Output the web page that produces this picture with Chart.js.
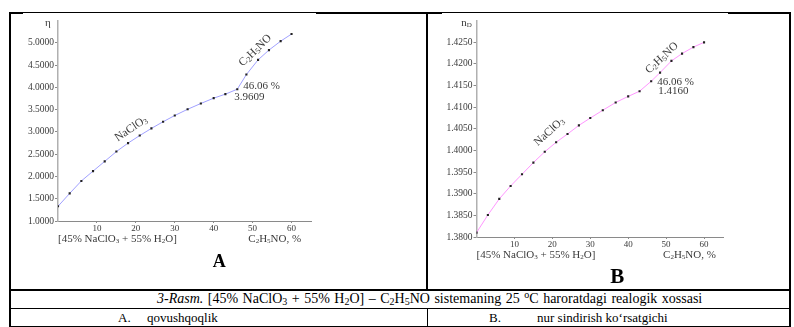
<!DOCTYPE html>
<html>
<head>
<meta charset="utf-8">
<script src="https://cdn.jsdelivr.net/npm/chart.js@4/dist/chart.umd.min.js"></script>
<style>
	body { margin: 0; background: #fff; }
	#page { position: relative; width: 794px; height: 327px; overflow: hidden; font-family: "Liberation Serif", "Times New Roman", serif; color: #000; }
	.ln { position: absolute; background: #000; }
	.wh { position: absolute; background: #fff; }
	.box { position: absolute; }
	.txt { position: absolute; white-space: nowrap; font-size: 13px; line-height: 16px; }
	.txt sub { font-size: 9px; line-height: 0; vertical-align: -2px; }
	.txt sup { font-size: 9px; line-height: 0; vertical-align: 5px; }
	.cap { font-size: 14px; word-spacing: 1px; }
	.cap sub, .cap sup { font-size: 10px; }
</style>
</head>
<body>
<div id="page">
	<!-- table borders -->
	<div class="ln" style="left:9px; top:12px; width:782px; height:2px;"></div>
	<div class="wh" style="left:23px; top:13px; width:293px; height:1px;"></div>
	<div class="wh" style="left:442px; top:13px; width:286px; height:1px;"></div>
	<div class="ln" style="left:9px; top:12px; width:2px; height:315px;"></div>
	<div class="ln" style="left:789px; top:12px; width:2px; height:315px;"></div>
	<div class="ln" style="left:426px; top:12px; width:2px; height:278px;"></div>
	<div class="ln" style="left:9px; top:289px; width:782px; height:2px;"></div>
	<div class="ln" style="left:9px; top:308px; width:782px; height:1px;"></div>
	<div class="ln" style="left:427px; top:308px; width:1px; height:19px;"></div>
	<div class="ln" style="left:9px; top:326px; width:782px; height:1px;"></div>

	<div class="box" style="left:12px; top:14px;"><canvas id="chartA" width="410" height="274"></canvas></div>
	<div class="box" style="left:429px; top:14px;"><canvas id="chartB" width="358" height="274"></canvas></div>

	<div class="txt cap" style="left:157px; top:291px;"><i>3-Rasm.</i> [45% NaClO<sub>3</sub> + 55% H<sub>2</sub>O] – C<sub>2</sub>H<sub>5</sub>NO sistemaning 25 <sup>o</sup>C haroratdagi realogik xossasi</div>
	<div class="txt" style="left:118px; top:310px;">A.</div>
	<div class="txt" style="left:147px; top:310px;">qovushqoqlik</div>
	<div class="txt" style="left:489px; top:310px;">B.</div>
	<div class="txt" style="left:537px; top:310px;">nur sindirish ko‘rsatgichi</div>
</div>

<script>
// C2H5NO content, % (same composition points for both curves)
var concentration = [0, 3, 6, 9, 12, 15, 18, 21, 24, 27, 30, 33.3, 36.7, 40, 43, 46.06, 48.4, 51.4, 54.2, 57.2, 60];
// viscosity, eta
var viscosity = [1.33, 1.62, 1.90, 2.12, 2.34, 2.56, 2.75, 2.92, 3.08, 3.23, 3.37, 3.51, 3.64, 3.76, 3.85, 3.9609, 4.29, 4.62, 4.84, 5.04, 5.20];
// refractive index, nD
var refraction = [1.3810, 1.3851, 1.3888, 1.3918, 1.3945, 1.3972, 1.3997, 1.4019, 1.4038, 1.4058, 1.4075, 1.4093, 1.4111, 1.4125, 1.4137, 1.4160, 1.4180, 1.4207, 1.4224, 1.4239, 1.4250];

var xTicks = [10, 20, 30, 40, 50, 60];
var yTicksA = [1.0, 1.5, 2.0, 2.5, 3.0, 3.5, 4.0, 4.5, 5.0];
var yTicksB = [1.380, 1.385, 1.390, 1.395, 1.400, 1.405, 1.410, 1.415, 1.420, 1.425];

var SERIF = "'Liberation Serif', 'Times New Roman', serif";
var TEXT_GRAY = "#3a3a3a";

// draw text made of plain and subscript pieces, starting at (x, y) on the middle line
function drawRich( ctx, parts, x, y, size, align, bold ) {
	var weight = bold ? "bold " : "";
	var subSize = Math.round( size * 0.68 );
	var total = 0;
	parts.forEach( function( p ) {
		ctx.font = weight + ( p.sub ? subSize : size ) + "px " + SERIF;
		p.w = ctx.measureText( p.t ).width;
		total += p.w;
	} );
	var cx = x;
	if ( align === "center" ) { cx = x - total / 2; }
	ctx.textBaseline = "middle";
	ctx.textAlign = "left";
	parts.forEach( function( p ) {
		ctx.font = weight + ( p.sub ? subSize : size ) + "px " + SERIF;
		ctx.fillText( p.t, cx, p.sub ? y + size * 0.22 : y );
		cx += p.w;
	} );
}

function rich( str ) {
	// "NaClO_3" -> [{t:"NaClO"},{t:"3",sub:true}]
	var out = [];
	str.split( /(_\d)/ ).forEach( function( s ) {
		if ( !s ) { return; }
		if ( s.charAt( 0 ) === "_" ) { out.push( { t: s.substr( 1 ), sub: true } ); }
		else { out.push( { t: s } ); }
	} );
	return out;
}

// notes placed at data coordinates, plus texts under the axis
var notesPlugin = {
	id: "notes",
	afterDatasetsDraw: function( chart ) {
		var ctx = chart.ctx;
		var xs = chart.scales.x, ys = chart.scales.y;
		var o = chart.options.plugins.notes;
		ctx.save();
		ctx.fillStyle = TEXT_GRAY;
		o.items.forEach( function( n ) {
			var px = xs.getPixelForValue( n.x ) + ( n.dx || 0 );
			var py = ys.getPixelForValue( n.y ) + ( n.dy || 0 );
			ctx.save();
			ctx.translate( px, py );
			ctx.rotate( ( n.rot || 0 ) * Math.PI / 180 );
			drawRich( ctx, rich( n.text ), 0, 0, n.size || 11, n.align || "left" );
			ctx.restore();
		} );
		// axis title at the top of the y axis
		drawRich( ctx, o.yTitle, xs.left - 10, chart.chartArea.top + 2, 11, "center" );
		// texts under the x axis
		var base = chart.chartArea.bottom;
		drawRich( ctx, rich( "[45% NaClO_3 + 55% H_2O]" ), xs.left, base + o.capOffset, 11, "left" );
		drawRich( ctx, rich( "C_2H_5NO, %" ), xs.getPixelForValue( o.unitAt ), base + o.capOffset, 11, "left" );
		ctx.fillStyle = "#000";
		drawRich( ctx, [ { t: o.letter } ], xs.getPixelForValue( o.letterAt ), base + o.letterOffset, o.letterSize, "center", true );
		ctx.restore();
	}
};

function makeChart( id, values, lineColor, yMin, yMax, yTicks, digits, sizes, notes ) {
	var ctx = document.getElementById( id ).getContext( "2d" );
	var points = concentration.map( function( c, i ) { return { x: c, y: values[ i ] }; } );
	return new Chart( ctx, {
		type: "line",
		data: {
			datasets: [ {
				data: points,
				borderColor: lineColor,
				borderWidth: 1,
				tension: 0,
				pointStyle: "rect",
				pointRadius: 1.5,
				pointBackgroundColor: "#222",
				pointBorderWidth: 0
			} ]
		},
		plugins: [ notesPlugin ],
		options: {
			responsive: false,
			animation: false,
			layout: { padding: { left: 0, right: sizes.right, top: 3, bottom: 0 } },
			plugins: {
				legend: { display: false },
				tooltip: { enabled: false },
				notes: notes
			},
			scales: {
				x: {
					type: "linear",
					min: 0,
					max: 65,
					afterBuildTicks: function( s ) { s.ticks = xTicks.map( function( v ) { return { value: v }; } ); },
					afterFit: function( s ) { s.height = sizes.xHeight; },
					border: { color: "#8a8a8a", width: 1 },
					grid: { drawOnChartArea: false, tickLength: 2, color: "#8a8a8a" },
					ticks: { padding: 0, color: TEXT_GRAY, font: { family: SERIF, size: 9 } }
				},
				y: {
					type: "linear",
					min: yMin,
					max: yMax,
					afterBuildTicks: function( s ) { s.ticks = yTicks.map( function( v ) { return { value: v }; } ); },
					afterFit: function( s ) { s.width = sizes.yWidth; },
					border: { color: "#b0b0b0", width: 1.5 },
					grid: { drawOnChartArea: false, tickLength: 3, color: "#8a8a8a" },
					ticks: {
						padding: 1,
						color: TEXT_GRAY,
						font: { family: SERIF, size: 9.5 },
						callback: function( v ) { return Number( v ).toFixed( digits ); }
					}
				}
			}
		}
	} );
}

makeChart( "chartA", viscosity, "rgb(160,160,255)", 1.0, 5.5, yTicksA, 4,
	{ right: 111, xHeight: 67, yWidth: 46 },
	{
		yTitle: [ { t: "η" } ],
		capOffset: 18, unitAt: 48.9,
		letter: "A", letterAt: 41.4, letterOffset: 41, letterSize: 18,
		items: [
			{ text: "NaClO_3", x: 18.8, y: 3.07, rot: -34, align: "center", size: 11.5 },
			{ text: "C_2H_5NO", x: 50.7, y: 4.83, rot: -44, align: "center", size: 11.5 },
			{ text: "46.06 %", x: 46.06, y: 3.9609, dx: 6, dy: -3 },
			{ text: "3.9609", x: 46.06, y: 3.9609, dx: -3, dy: 8 }
		]
	} );

makeChart( "chartB", refraction, "rgb(255,150,255)", 1.38, 1.43, yTicksB, 4,
	{ right: 64, xHeight: 51, yWidth: 47.5 },
	{
		yTitle: [ { t: "n" }, { t: "D", sub: true } ],
		capOffset: 18, unitAt: 49.2,
		letter: "B", letterAt: 37.1, letterOffset: 41, letterSize: 21,
		items: [
			{ text: "NaClO_3", x: 19.2, y: 1.40435, rot: -42, align: "center", size: 11.5 },
			{ text: "C_2H_5NO", x: 48.9, y: 1.42137, rot: -43, align: "center", size: 11.5 },
			{ text: "46.06 %", x: 46.06, y: 1.4150, dx: 6, dy: -3 },
			{ text: "1.4160", x: 46.06, y: 1.4150, dx: 7, dy: 6 }
		]
	} );
</script>
</body>
</html>
